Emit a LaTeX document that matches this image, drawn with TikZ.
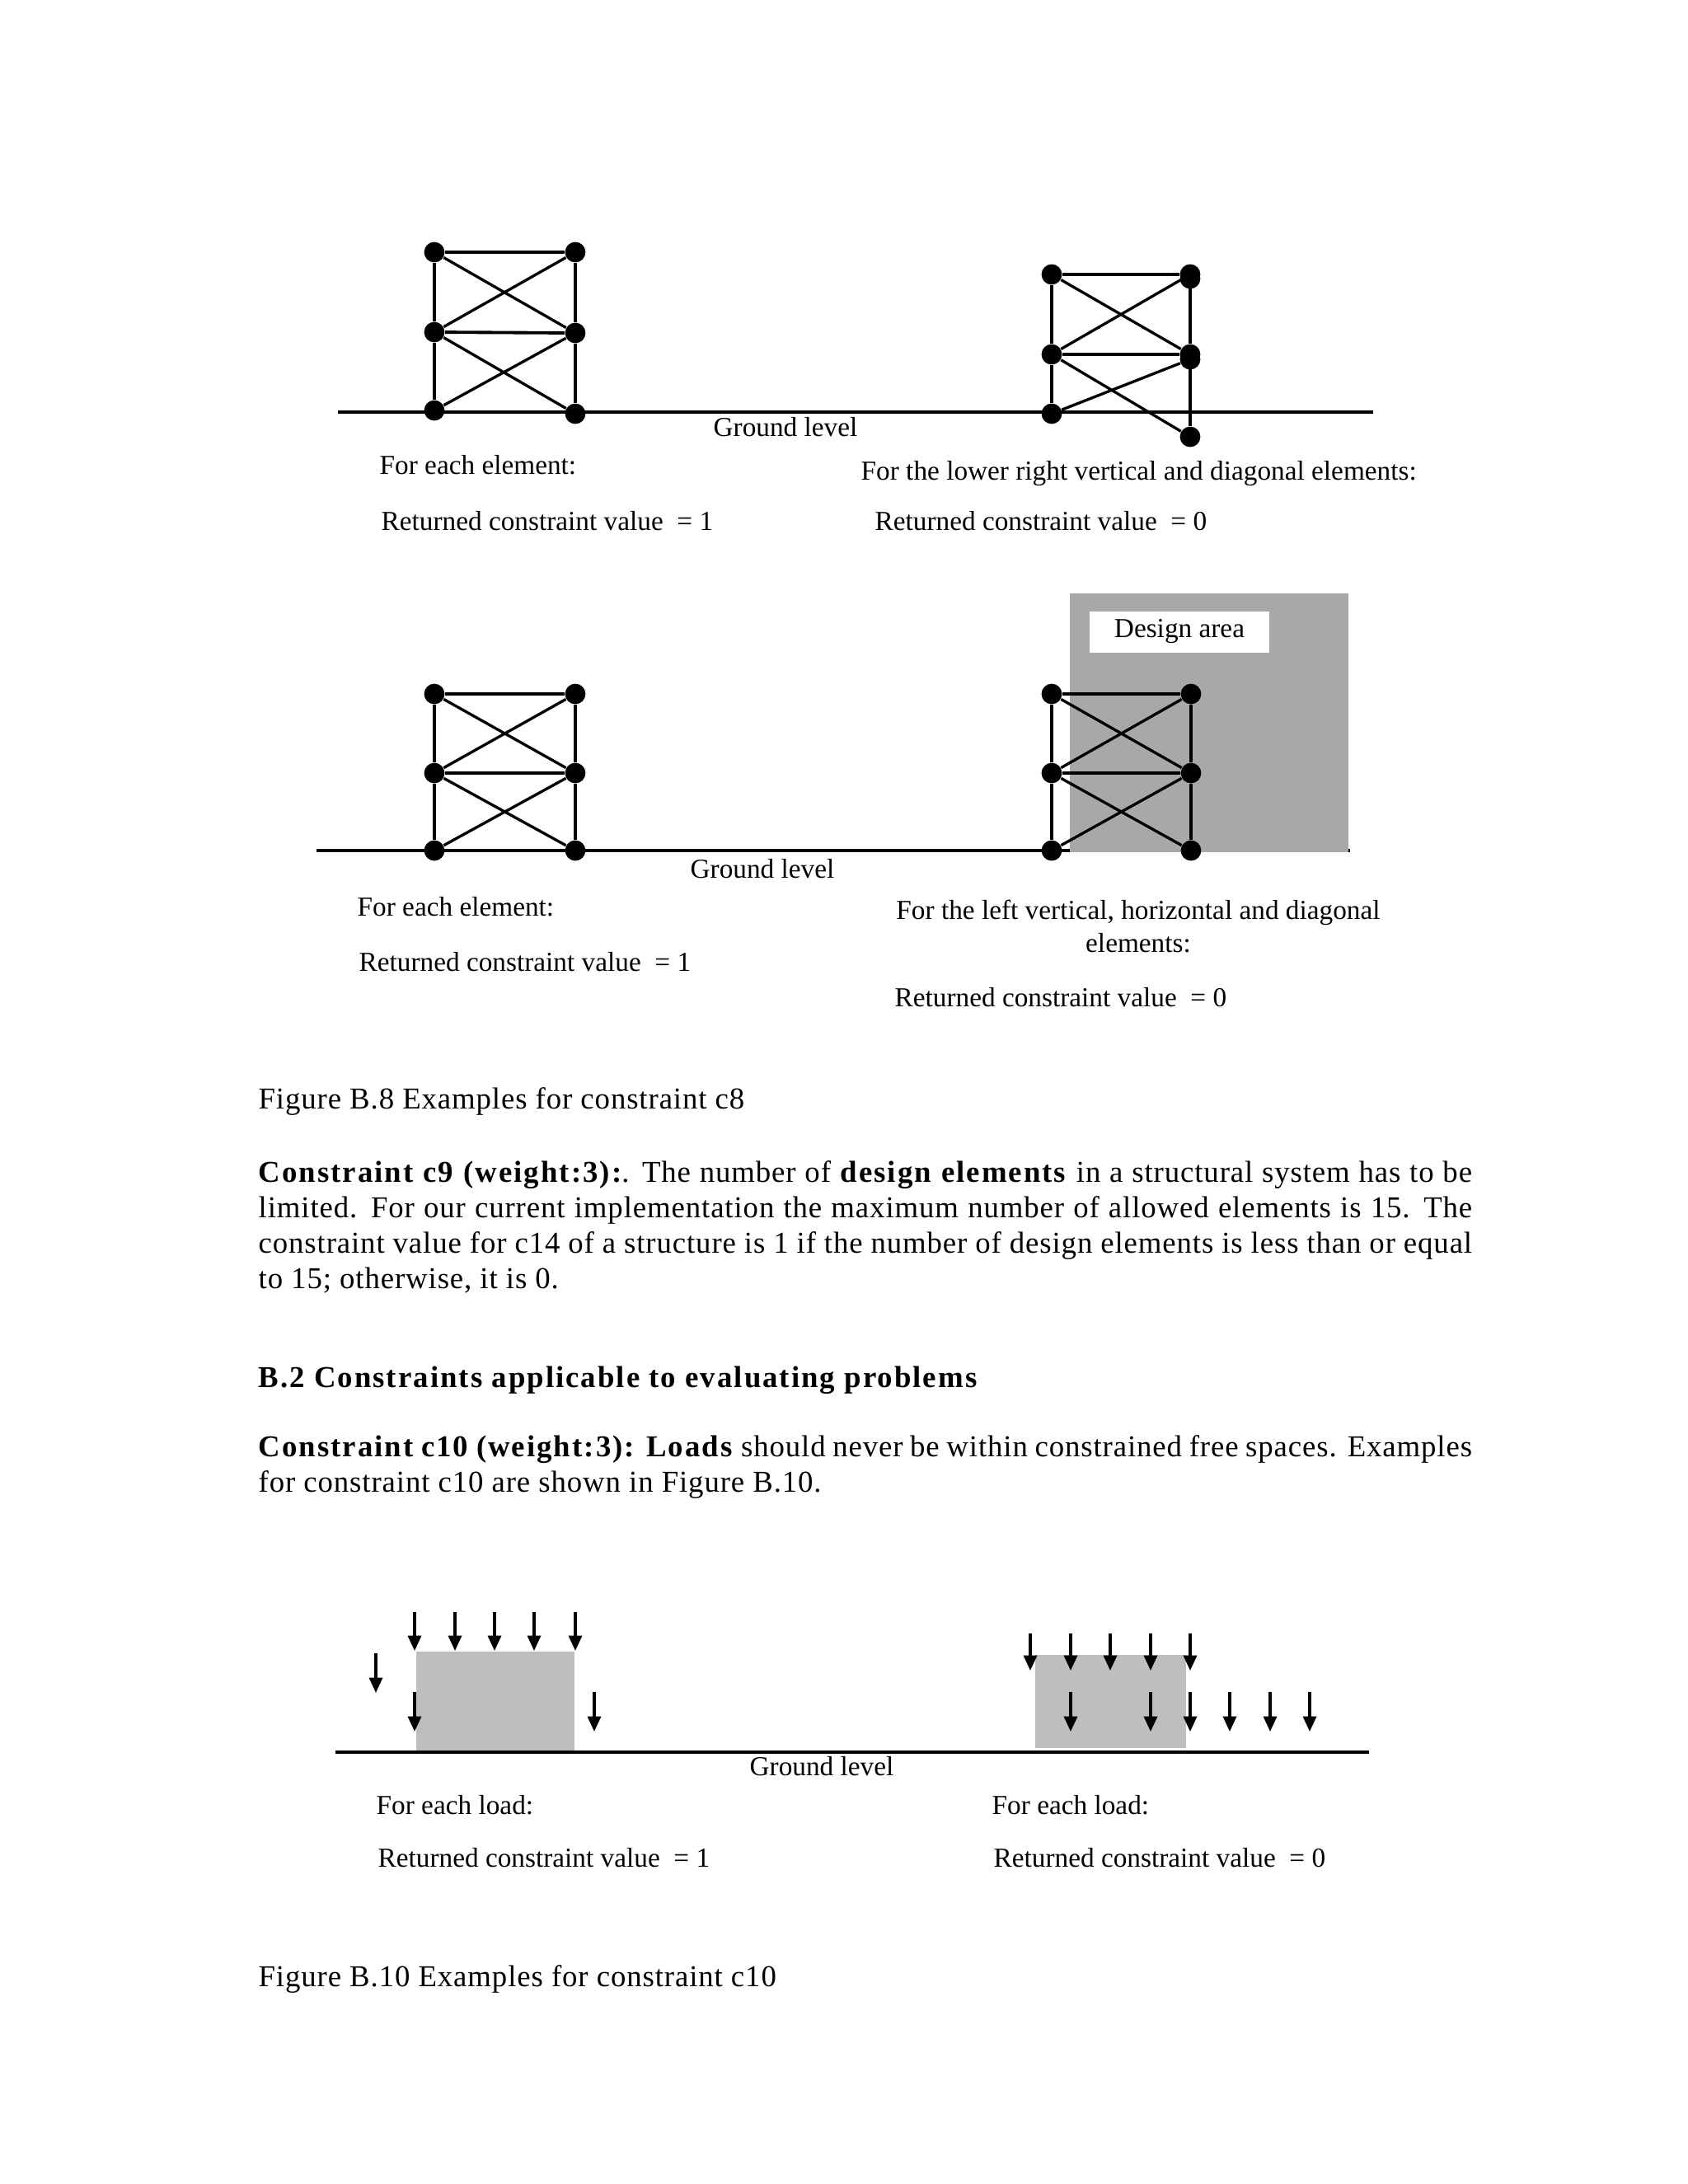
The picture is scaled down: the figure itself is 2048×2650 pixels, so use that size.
\documentclass[tikz,border=0pt]{standalone}
\usepackage{fontspec}
\usepackage{xcolor}
\usetikzlibrary{arrows.meta, calc, positioning}
\setmainfont{Liberation Serif}
\newfontfamily\bodyfont[LetterSpace=2.4,BoldFeatures={LetterSpace=5.5}]{Liberation Serif}
\definecolor{designgray}{HTML}{A8A8A8}
\definecolor{freegray}{HTML}{BEBEBE}
\tikzset{
    joint/.style={circle,fill=black,inner sep=0pt,minimum size=7.4pt},
    member/.style={line width=1pt},
    beam/.style={line width=1.15pt},
    ground/.style={line width=1.15pt},
    load/.style={line width=0.95pt,-{Triangle[length=5.5pt,width=4.8pt]}},
    figlabel/.style={anchor=base west,inner sep=0pt,font=\fontsize{9.95}{12}\selectfont},
    figcenter/.style={anchor=base,inner sep=0pt,font=\fontsize{9.95}{12}\selectfont},
    bodytext/.style={anchor=north west,inner sep=0pt,text width=440pt,align=justify,
        font=\fontsize{11}{12.85}\bodyfont},
}
\begin{document}
\begin{tikzpicture}[x=0.298828pt,y=-0.298828pt]
    \useasboundingbox (0,0) rectangle (2048,2650);

    % first figure
    \draw[ground] (410,500) -- (1666,500);
    \node[joint] (a1) at (527,306) {};
    \node[joint] (a2) at (698,306) {};
    \node[joint] (a3) at (527,403) {};
    \node[joint] (a4) at (698,404) {};
    \node[joint] (a5) at (527,498) {};
    \node[joint] (a6) at (698,502) {};
    \draw[member] (a1) -- (a3) -- (a5) (a2) -- (a4) -- (a6);
    \draw[beam] (a1) -- (a2) (a3) -- (a4);
    \draw[member] (a1) -- (a4) (a2) -- (a3) (a3) -- (a6) (a4) -- (a5);

    \node[joint] (b1) at (1276,333) {};
    \node[joint] (b2) at (1444,333) {};
    \node[joint] (b2x) at (1444,338) {};
    \node[joint] (b3) at (1276,430) {};
    \node[joint] (b4) at (1444,430) {};
    \node[joint] (b4x) at (1444,436) {};
    \node[joint] (b5) at (1276,502) {};
    \node[joint] (b6) at (1444,530) {};
    \draw[member] (b1) -- (b3) -- (b5) (b2) -- (b4) -- (b6);
    \draw[beam] (b1) -- (b2) (b3) -- (b4);
    \draw[member] (b1) -- (b4) (b2) -- (b3) (b3) -- (b6) (b4x) -- (b5);

    \node[figcenter] (g1) at (953,529) {Ground level};
    \node[figlabel] (t1) at (460,575) {For each element:};
    \node[figlabel] (t2) at (462,643) {Returned constraint value\ \ = 1};
    \node[figlabel] (t3) at (1044,582) {For the lower right vertical and diagonal elements:};
    \node[figlabel] (t4) at (1061,643) {Returned constraint value\ \ = 0};

    % second figure
    \draw[ground] (384,1032) -- (1638,1032);
    \fill[designgray] (1298,720) rectangle (1636,1034);
    \node[fill=white,minimum width=65pt,minimum height=15.2pt,inner sep=0pt] (areabox) at (1431,767) {};
    \node[figcenter] (t5) at (1431,773) {Design area};

    \foreach \tw/\xa/\xb in {c/527/698,d/1276/1445}{
        \node[joint] (\tw1) at (\xa,842) {};
        \node[joint] (\tw2) at (\xb,842) {};
        \node[joint] (\tw3) at (\xa,938) {};
        \node[joint] (\tw4) at (\xb,938) {};
        \node[joint] (\tw5) at (\xa,1032) {};
        \node[joint] (\tw6) at (\xb,1032) {};
        \draw[member] (\tw1) -- (\tw3) -- (\tw5) (\tw2) -- (\tw4) -- (\tw6);
        \draw[beam] (\tw1) -- (\tw2) (\tw3) -- (\tw4);
        \draw[member] (\tw1) -- (\tw4) (\tw2) -- (\tw3) (\tw3) -- (\tw6) (\tw4) -- (\tw5);
    }

    \node[figcenter] (g2) at (925,1065) {Ground level};
    \node[figlabel] (t6) at (433,1111) {For each element:};
    \node[figlabel] (t7) at (435,1178) {Returned constraint value\ \ = 1};
    \node[figcenter] (t8) at (1381,1115) {For the left vertical, horizontal and diagonal};
    \node[figcenter] (t9) at (1381,1155) {elements:};
    \node[figlabel] (t10) at (1085,1221) {Returned constraint value\ \ = 0};

    % text
    \node[figlabel,font=\fontsize{11}{12.85}\bodyfont] (cap1) at (313,1345) {Figure B.8 Examples for constraint c8};
    \node[bodytext] (para1) at (313,1407.5) {\textbf{Constraint c9 (weight:3):}. The number of \textbf{design elements} in a structural system has to be\linebreak
        limited. For our current implementation the maximum number of allowed elements is 15. The\linebreak
        constraint value for c14 of a structure is 1 if the number of design elements is less than or equal\linebreak
        to 15; otherwise, it is 0.};
    \node[figlabel,font=\fontsize{11}{12.85}\bodyfont\bfseries] (sec1) at (313,1683) {B.2 Constraints applicable to evaluating problems};
    \node[bodytext] (para2) at (313,1741) {\textbf{Constraint c10 (weight:3): Loads} should never be within constrained free spaces. Examples\linebreak
        for constraint c10 are shown in Figure B.10.};

    % third figure
    \fill[freegray] (505,2004) rectangle (697,2124);
    \fill[freegray] (1256,2008) rectangle (1439,2121);
    \draw[ground] (407,2126) -- (1661,2126);
    \foreach \x in {503,552,600,648,698}{
        \draw[load] (\x,1956) -- (\x,2003);
    }
    \draw[load] (456,2006) -- (456,2054);
    \foreach \x in {503,721}{
        \draw[load] (\x,2053) -- (\x,2101);
    }
    \foreach \x in {1250,1299,1347,1396,1444}{
        \draw[load] (\x,1982) -- (\x,2027);
    }
    \foreach \x in {1299,1396,1444,1492,1541,1589}{
        \draw[load] (\x,2053) -- (\x,2101);
    }

    \node[figcenter] (g3) at (997,2154) {Ground level};
    \node[figlabel] (t11) at (456,2201) {For each load:};
    \node[figlabel] (t12) at (458,2265) {Returned constraint value\ \ = 1};
    \node[figlabel] (t13) at (1203,2201) {For each load:};
    \node[figlabel] (t14) at (1205,2265) {Returned constraint value\ \ = 0};
    \node[figlabel,font=\fontsize{11}{12.85}\bodyfont] (cap2) at (313,2410) {Figure B.10 Examples for constraint c10};
\end{tikzpicture}
\end{document}
